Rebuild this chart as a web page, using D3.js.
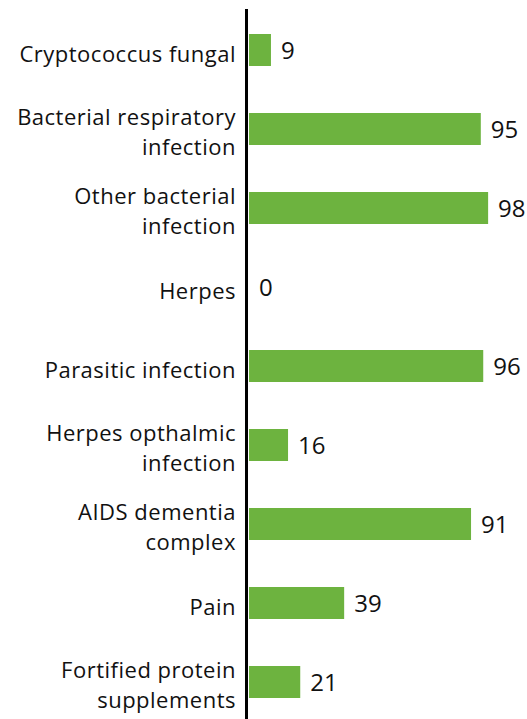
<!DOCTYPE html>
<html lang="en">
<head>
<meta charset="utf-8">
<title>Bar chart</title>
<style>
body { margin: 0; background: #fff; }
#chart text { font-family: "Open Sans", sans-serif; fill: #111; }
</style>
</head>
<body>
<div id="chart"></div>
<script src="https://d3js.org/d3.v7.min.js"></script>
<script>
var categories = [
  "Cryptococcus fungal",
  "Bacterial respiratory infection",
  "Other bacterial infection",
  "Herpes",
  "Parasitic infection",
  "Herpes opthalmic infection",
  "AIDS dementia complex",
  "Pain",
  "Fortified protein supplements"
];
var labelLines = [
  ["Cryptococcus fungal"],
  ["Bacterial respiratory", "infection"],
  ["Other bacterial", "infection"],
  ["Herpes"],
  ["Parasitic infection"],
  ["Herpes opthalmic", "infection"],
  ["AIDS dementia", "complex"],
  ["Pain"],
  ["Fortified protein", "supplements"]
];
var values = [9, 95, 98, 0, 96, 16, 91, 39, 21];

var width = 527, height = 719;
var axisX = 246.5;

var svg = d3.select('#chart').append('svg')
  .attr('width', width)
  .attr('height', height);

var x = d3.scaleLinear().domain([0, 100]).range([249, 493]);
var y = d3.scaleBand()
  .domain(categories)
  .range([10.5, 721.5])
  .paddingInner(0.595)
  .paddingOuter(0.2975);

svg.selectAll('rect.bar')
  .data(values)
  .enter()
  .append('rect')
  .attr('class', 'bar')
  .attr('x', x(0))
  .attr('y', function(d, i) { return y(categories[i]); })
  .attr('width', function(d) { return x(d) - x(0); })
  .attr('height', y.bandwidth())
  .style('fill', '#6db33f');

// value labels
svg.selectAll('text.val')
  .data(values)
  .enter()
  .append('text')
  .attr('class', 'val')
  .attr('x', function(d) { return x(d) + 10; })
  .attr('y', function(d, i) { return y(categories[i]) + y.bandwidth() / 2 + 9; })
  .style('font-size', '24px')
  .text(function(d) { return d; });

// category labels, one text per line
labelLines.forEach(function(lines, i) {
  var c = y(categories[i]) + y.bandwidth() / 2;
  svg.selectAll(null)
    .data(lines)
    .enter()
    .append('text')
    .attr('class', 'cat')
    .attr('text-anchor', 'end')
    .style('font-size', '22px')
    .style('letter-spacing', '0.5px')
    .attr('x', 236)
    .attr('y', function(d, j) { return lines.length == 1 ? c + 12 : c - 4 + j * 30; })
    .text(function(d) { return d; });
});

// axis line
svg.append('line')
  .attr('x1', axisX).attr('x2', axisX)
  .attr('y1', 9).attr('y2', height)
  .style('stroke', '#000')
  .style('stroke-width', 3);
</script>
</body>
</html>
